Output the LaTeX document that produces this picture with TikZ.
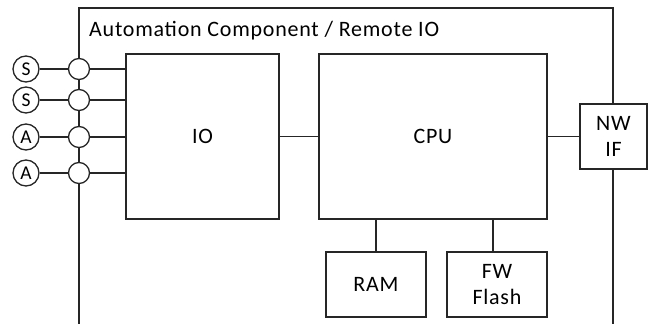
\documentclass[tikz,border=0pt]{standalone}
\usepackage{fontspec}
\setmainfont{Carlito}[LetterSpace=3.5]
\begin{document}
\begin{tikzpicture}[x=1pt,y=-1pt,
  lw/.style={line width=1.3pt, draw=black!85},
  blk/.style={lw, rectangle, inner sep=0pt, font=\fontsize{22}{26}\selectfont, align=center, fill=white},
  sig/.style={lw, circle, minimum size=26pt, inner sep=0pt, font=\fontsize{19.5}{22}\selectfont, fill=white},
  junc/.style={lw, circle, minimum size=21pt, inner sep=0pt, fill=white}]
\useasboundingbox (0,0) rectangle (649,324);
% outer frame
\coordinate (fbl) at (79,324);
\coordinate (ftl) at (79,8);
\coordinate (ftr) at (613,8);
\coordinate (fbr) at (613,324);
\draw[lw] (fbl) -- (ftl) -- (ftr) -- (fbr);
\node[anchor=base west, font=\fontsize{22}{26}\selectfont, inner sep=0pt] (title) at (89,37) {Automation Component / Remote IO};
% blocks
\node[blk, minimum width=153pt, minimum height=165pt] (io) at (202.5,136.5) {IO};
\node[blk, minimum width=228pt, minimum height=165pt] (cpu) at (433,136.5) {CPU};
\node[blk, minimum width=67pt, minimum height=65pt] (nw) at (613.5,136.5) {NW\\IF};
\node[blk, minimum width=100pt, minimum height=65pt] (ram) at (376,284.5) {RAM};
\node[blk, minimum width=100pt, minimum height=65pt] (fw) at (497,284.5) {FW\\Flash};
\draw[lw] (io.east) -- (cpu.west);
\draw[lw] (cpu.east) -- (nw.west);
\draw[lw] (ram.north) -- (ram.north |- cpu.south);
\draw[lw] (fw.north -| 493,0) -- (493,219);
% signals
\foreach \y/\l/\n in {69/S/1,100/S/2,137/A/3,173/A/4}{
  \node[sig] (s\n) at (26,\y) {\l};
  \node[junc] (j\n) at (79,\y) {};
  \draw[lw] (s\n) -- (j\n);
  \draw[lw] (j\n) -- (io.west |- j\n);
}
\end{tikzpicture}
\end{document}
